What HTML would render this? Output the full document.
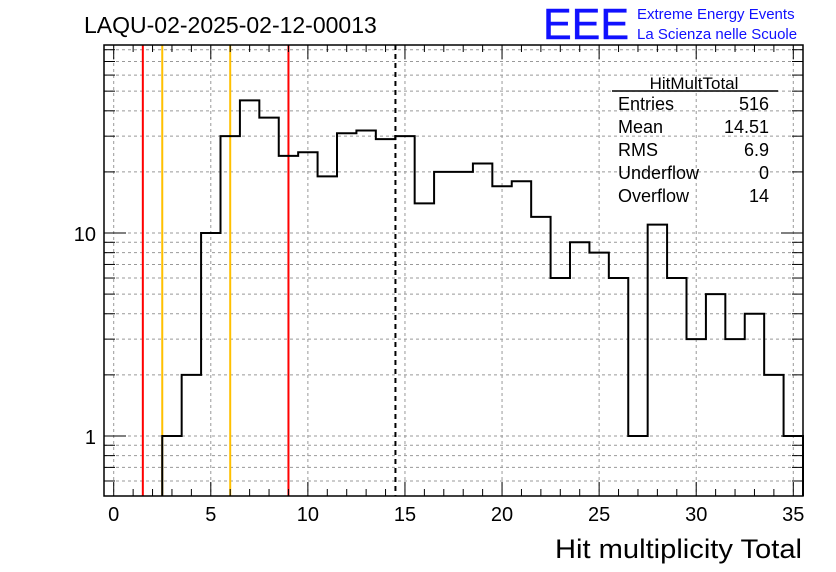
<!DOCTYPE html>
<html><head><meta charset="utf-8"><style>
body{margin:0;background:#fff;}
svg{display:block;font-family:"Liberation Sans",sans-serif;}
</style></head><body>
<svg id="c" width="836" height="572">
<text x="84" y="33" font-size="23">LAQU-02-2025-02-12-00013</text>
<text x="543" y="39" font-size="44" fill="#1010ff" stroke="#1010ff" stroke-width="0.5" textLength="86" lengthAdjust="spacingAndGlyphs">EEE</text>
<text x="637" y="19" font-size="15" fill="#1010ff">Extreme Energy Events</text>
<text x="637" y="39" font-size="15" fill="#1010ff">La Scienza nelle Scuole</text>
<g id="grid"></g><g id="marks"></g><g id="hist"></g><g id="axes"></g>
<g font-size="18">
<text x="694" y="89" text-anchor="middle" font-size="17">HitMultTotal</text>
<line x1="612" y1="91" x2="778" y2="91" stroke="#000" stroke-width="1.5"/>
<text x="618" y="110">Entries</text><text x="769" y="110" text-anchor="end">516</text>
<text x="618" y="133">Mean</text><text x="769" y="133" text-anchor="end">14.51</text>
<text x="618" y="156">RMS</text><text x="769" y="156" text-anchor="end">6.9</text>
<text x="618" y="179">Underflow</text><text x="769" y="179" text-anchor="end">0</text>
<text x="618" y="202">Overflow</text><text x="769" y="202" text-anchor="end">14</text>
</g>
<text x="802" y="558" font-size="27" text-anchor="end" textLength="247" lengthAdjust="spacingAndGlyphs">Hit multiplicity Total</text>
</svg>
<script>
const binCenters=[0,1,2,3,4,5,6,7,8,9,10,11,12,13,14,15,16,17,18,19,20,21,22,23,24,25,26,27,28,29,30,31,32,33,34,35];
const counts=[0,0,0,1,2,10,30,45,37,24,25,19,31,32,29,30,14,20,20,22,17,18,12,6,9,8,6,1,11,6,3,5,3,4,2,1];
const xTicks=[0,5,10,15,20,25,30,35];
const yTicks=[1,10];
const vLines=[{x:1.5,c:"#ff0000",d:""},{x:2.5,c:"#ffc000",d:""},{x:6,c:"#ffc000",d:""},{x:9,c:"#ff0000",d:""},{x:14.51,c:"#000",d:"5,4"}];
const L=104,R=803,T=45,B=496,xmin=-0.5,xmax=35.5;
const ymin=Math.log10(0.506),ymax=Math.log10(84.4);
const X=v=>L+(v-xmin)/(xmax-xmin)*(R-L);
const Y=v=>B-(Math.log10(Math.max(v,0.0001))-ymin)/(ymax-ymin)*(B-T);
const NS="http://www.w3.org/2000/svg";
function mk(t,a,p){const e=document.createElementNS(NS,t);for(const k in a)e.setAttribute(k,a[k]);p.appendChild(e);return e;}
const grid=document.getElementById('grid'),axes=document.getElementById('axes'),marks=document.getElementById('marks'),hist=document.getElementById('hist');
for(const t of xTicks){const g=mk('line',{x1:X(t),x2:X(t),y1:T,y2:B,stroke:'#999','stroke-dasharray':'3,3'},grid);

}
const minors=[0.6,0.7,0.8,0.9,1,2,3,4,5,6,7,8,9,10,20,30,40,50,60,70,80];
for(const m of minors){const g=mk('line',{x1:L,x2:R,y1:Y(m),y2:Y(m),stroke:'#999','stroke-dasharray':'3,3'},grid);

}
for(const v of vLines){const l=mk('line',{x1:X(v.x),x2:X(v.x),y1:T,y2:B,stroke:v.c,'stroke-width':2,'stroke-dasharray':v.d},marks);

}
let d='',started=false;
for(let i=0;i<binCenters.length;i++){const c=counts[i];if(c<=0&&!started)continue;
const x0=X(binCenters[i]-0.5),x1=X(binCenters[i]+0.5),y=Math.min(Y(c),B);
if(!started){d+=`M${x0},${B}`;started=true;}
d+=`L${x0},${y}L${x1},${y}`;}
d+=`L${X(35.5)},${B}`;
const h=mk('path',{d:d,fill:'none',stroke:'#000','stroke-width':2},hist);


const f=mk('rect',{x:L,y:T,width:R-L,height:B-T,fill:'none',stroke:'#000','stroke-width':1.5},axes);


for(let v=0;v<=35;v++){const len=(v%5===0)?14:7;
mk('line',{x1:X(v),x2:X(v),y1:B,y2:B-len,stroke:'#000'},axes);
mk('line',{x1:X(v),x2:X(v),y1:T,y2:T+len,stroke:'#000'},axes);}
for(const m of minors){const len=(m===1||m===10)?22:11;
mk('line',{x1:L,x2:L+len,y1:Y(m),y2:Y(m),stroke:'#000'},axes);
mk('line',{x1:R,x2:R-len,y1:Y(m),y2:Y(m),stroke:'#000'},axes);}
for(const t of xTicks){const e=mk('text',{x:X(t),y:B+25,'font-size':20,'text-anchor':'middle'},axes);e.textContent=t;

}
for(const t of yTicks){const e=mk('text',{x:L-8,y:Y(t)+8,'font-size':20,'text-anchor':'end'},axes);e.textContent=t;

}
</script>
</body></html>
